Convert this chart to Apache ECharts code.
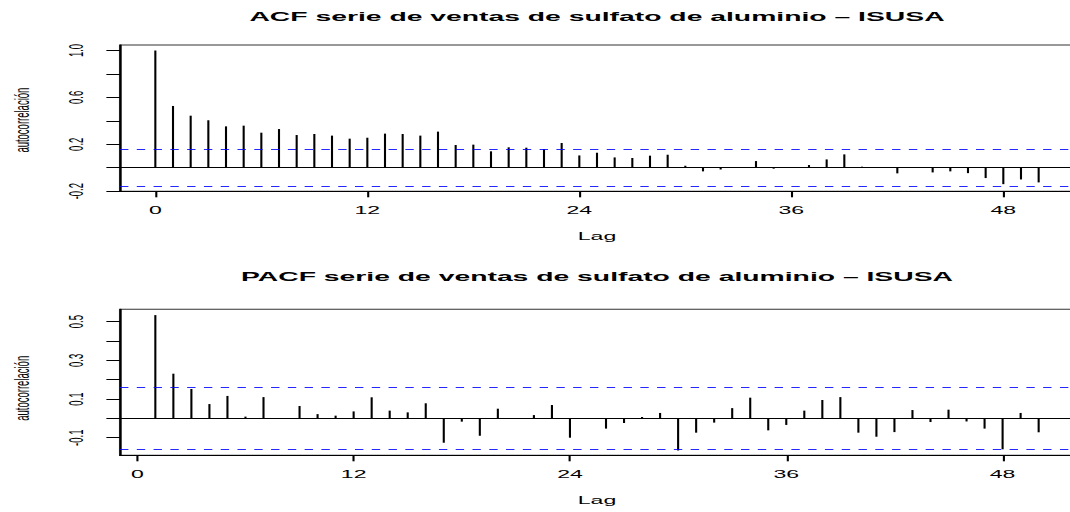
<!DOCTYPE html>
<html>
<head>
<meta charset="utf-8">
<script src="https://cdn.jsdelivr.net/npm/echarts@6/dist/echarts.min.js"></script>
<style>
html,body{margin:0;padding:0;background:#fff;overflow:hidden}
#wrap{width:1070px;height:512px;overflow:hidden;position:relative;background:#fff}
#chart{width:510px;height:512px;transform:scaleX(2.0980392);transform-origin:0 0}
</style>
</head>
<body>
<div id="wrap"><div id="chart"></div></div>
<script>
// ---- data ----
const acfTitle = 'ACF serie de ventas de sulfato de aluminio \u2013 ISUSA';
const pacfTitle = 'PACF serie de ventas de sulfato de aluminio \u2013 ISUSA';
const yLabel = 'autocorrelaci\u00f3n';
const xLabel = 'Lag';
const acfLags = [0,1,2,3,4,5,6,7,8,9,10,11,12,13,14,15,16,17,18,19,20,21,22,23,24,25,26,27,28,29,30,31,32,33,34,35,36,37,38,39,40,41,42,43,44,45,46,47,48,49,50];
const acfValues = [1.0,0.527,0.444,0.405,0.353,0.359,0.299,0.330,0.279,0.288,0.274,0.248,0.256,0.291,0.288,0.274,0.308,0.194,0.197,0.140,0.174,0.171,0.160,0.211,0.105,0.128,0.088,0.083,0.103,0.111,0.017,-0.031,-0.015,0.003,0.057,-0.008,0.006,0.023,0.071,0.114,0.009,0.004,-0.048,0.002,-0.040,-0.031,-0.046,-0.088,-0.140,-0.100,-0.125];
const pacfLags = [1,2,3,4,5,6,7,8,9,10,11,12,13,14,15,16,17,18,19,20,21,22,23,24,25,26,27,28,29,30,31,32,33,34,35,36,37,38,39,40,41,42,43,44,45,46,47,48,49,50];
const pacfValues = [0.534,0.231,0.152,0.074,0.116,0.009,0.110,-0.003,0.064,0.022,0.014,0.036,0.109,0.040,0.031,0.078,-0.126,-0.017,-0.090,0.050,-0.002,0.017,0.069,-0.100,-0.003,-0.053,-0.024,0.007,0.028,-0.166,-0.074,-0.022,0.053,0.107,-0.062,-0.034,0.040,0.095,0.110,-0.074,-0.095,-0.071,0.043,-0.019,0.045,-0.016,-0.053,-0.160,0.028,-0.072];
const confLimit = 0.157;
const xTicks = [0,12,24,36,48];
const acfYTicks = [-0.2,0,0.2,0.4,0.6,0.8,1.0];
const acfYLabels = [-0.2,0.2,0.6,1.0];
const pacfYTicks = [-0.1,0,0.1,0.2,0.3,0.4,0.5];
const pacfYLabels = [-0.1,0.1,0.3,0.5];

// ---- layout ----
const FONT = "'Liberation Sans', Arial, Helvetica, sans-serif";
const GL = 57.2, GW = 454.7;

function xAxisCfg(idx, min, max) {
  return {
    type: 'value', gridIndex: idx, min: min, max: max, position: 'bottom',
    name: xLabel, nameLocation: 'middle', nameGap: 40,
    nameTextStyle: {fontFamily: FONT, fontSize: 11, color: '#000'},
    axisLine: {show: true, onZero: false, lineStyle: {color: '#000', width: 1}},
    axisTick: {show: true, length: 6, customValues: xTicks, lineStyle: {color: '#000'}},
    axisLabel: {show: true, margin: 14, customValues: xTicks, fontFamily: FONT, fontSize: 11, color: '#000',
      formatter: v => String(v)},
    splitLine: {show: false}
  };
}
function yAxisCfg(idx, min, max, ticks, labels, namePadRight) {
  return {
    type: 'value', gridIndex: idx, min: min, max: max, position: 'left',
    name: yLabel, nameLocation: 'middle', nameGap: 41.7, nameRotate: 90,
    nameTextStyle: {fontFamily: FONT, fontSize: 9.5, color: '#000', padding: [0, namePadRight, 0, 0]},
    axisLine: {show: true, onZero: false, lineStyle: {color: '#000', width: 1}},
    axisTick: {show: true, length: 6.5, customValues: ticks, lineStyle: {color: '#000'}},
    axisLabel: {show: true, rotate: 90, margin: 16, customValues: labels, fontFamily: FONT, fontSize: 9.5, color: '#000',
      formatter: v => (Math.round(v * 10) / 10).toFixed(1)},
    splitLine: {show: false}
  };
}
function zeroLine() {
  return {
    silent: true, symbol: ['none', 'none'], label: {show: false}, animation: false,
    lineStyle: {color: '#000', width: 1, type: 'solid'},
    data: [{yAxis: 0}]
  };
}
function ciLines() {
  return {
    silent: true, symbol: ['none', 'none'], label: {show: false}, animation: false,
    lineStyle: {color: '#0000ff', width: 1, type: [4, 4], opacity: 0.85},
    data: [{yAxis: confLimit}, {yAxis: -confLimit}]
  };
}

const chart = echarts.init(document.getElementById('chart'), null, {renderer: 'svg'});
chart.setOption({
  animation: false,
  backgroundColor: '#fff',
  graphic: [
    {type: 'text', x: GL + GW / 2, y: 16.5, style: {text: acfTitle, fontFamily: FONT, fontWeight: 'bold', fontSize: 13.5, fill: '#000', textAlign: 'center', textVerticalAlign: 'middle'}},
    {type: 'text', x: GL + GW / 2, y: 276.5, style: {text: pacfTitle, fontFamily: FONT, fontWeight: 'bold', fontSize: 13.5, fill: '#000', textAlign: 'center', textVerticalAlign: 'middle'}}
  ],
  grid: [
    {left: GL, top: 45, width: GW, height: 146.3, show: true, borderColor: '#333', borderWidth: 1, backgroundColor: 'transparent', containLabel: false, outerBoundsMode: 'none'},
    {left: GL, top: 309.3, width: GW, height: 146, show: true, borderColor: '#333', borderWidth: 1, backgroundColor: 'transparent', containLabel: false, outerBoundsMode: 'none'}
  ],
  xAxis: [xAxisCfg(0, -2, 52), xAxisCfg(1, -0.96, 51.96)],
  yAxis: [
    yAxisCfg(0, -0.201, 1.047, acfYTicks, acfYLabels, 4),
    yAxisCfg(1, -0.191, 0.564, pacfYTicks, pacfYLabels, 12)
  ],
  series: [
    {type: 'bar', xAxisIndex: 0, yAxisIndex: 0, barWidth: 1, itemStyle: {color: '#000'},
      data: acfLags.map((l, i) => [l, acfValues[i]]), markLine: zeroLine()},
    {type: 'line', xAxisIndex: 0, yAxisIndex: 0, data: [], showSymbol: false, markLine: ciLines()},
    {type: 'bar', xAxisIndex: 1, yAxisIndex: 1, barWidth: 1, itemStyle: {color: '#000'},
      data: pacfLags.map((l, i) => [l, pacfValues[i]]), markLine: zeroLine()},
    {type: 'line', xAxisIndex: 1, yAxisIndex: 1, data: [], showSymbol: false, markLine: ciLines()}
  ]
});
</script>
</body>
</html>
